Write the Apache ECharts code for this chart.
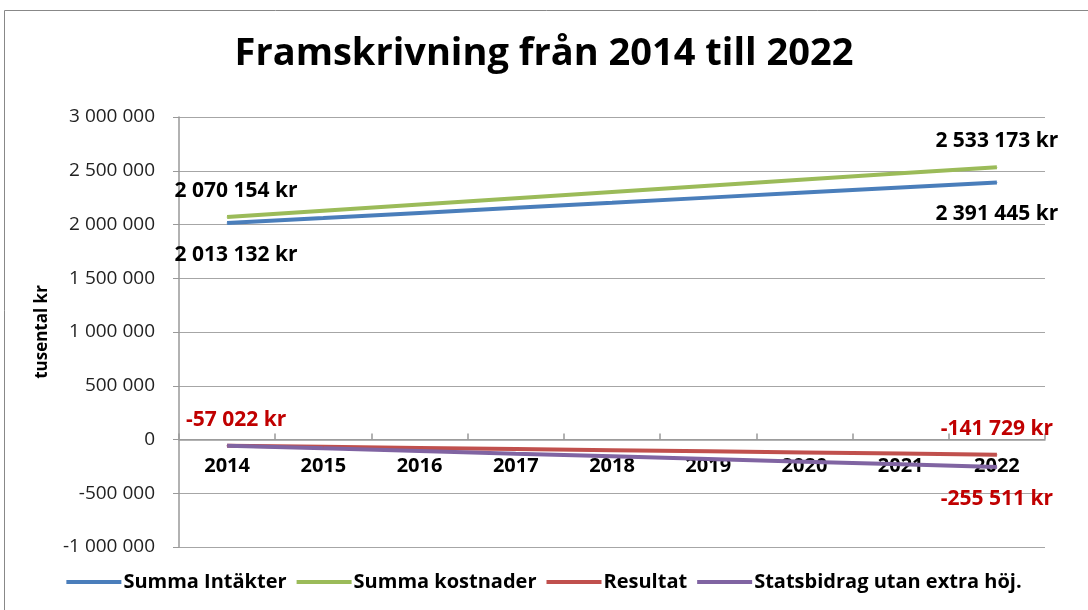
<!DOCTYPE html>
<html>
<head>
<meta charset="utf-8">
<script src="https://cdn.jsdelivr.net/npm/echarts@6/dist/echarts.min.js"></script>
<style>
html, body { margin: 0; padding: 0; background: #fff; }
#main { width: 1088px; height: 610px; }
</style>
</head>
<body>
<div id="main"></div>
<script>
var years = ['2014', '2015', '2016', '2017', '2018', '2019', '2020', '2021', '2022'];
var intakter = [2013132, 2060000, 2108000, 2155000, 2202000, 2250000, 2297000, 2344000, 2391445];
var kostnader = [2070154, 2128000, 2186000, 2244000, 2302000, 2360000, 2418000, 2476000, 2533173];
var resultat = [-57022, -67600, -78200, -88800, -99400, -110000, -120600, -131100, -141729];
var statsbidrag = [-57022, -82000, -107000, -132000, -156000, -181000, -206000, -231000, -255511];

var font = "'Liberation Sans Narrow', 'Open Sans', sans-serif";

function fmt(v) {
    return String(v).replace(/\B(?=(\d{3})+(?!\d))/g, ' ');
}

// labels only on first and last point
function ends(arr, posFirst, posLast, showFirst) {
    return arr.map(function (v, i) {
        var item = { value: v, label: { show: false } };
        if (i === 0 && showFirst) {
            item.label = { show: true, position: posFirst, offset: [9, 0],
                distance: posFirst === 'bottom' ? 21 : 15 };
        } else if (i === arr.length - 1) {
            item.label = { show: true, position: posLast,
                distance: posLast === 'bottom' ? 21 : 15 };
        }
        return item;
    });
}

function makeSeries(name, arr, color, labelColor, posFirst, posLast, showFirst) {
    return {
        name: name,
        type: 'line',
        data: ends(arr, posFirst, posLast, showFirst),
        symbol: 'circle',
        symbolSize: 1,
        showSymbol: true,
        lineStyle: { color: color, width: 4 },
        itemStyle: { color: color },
        label: {
            show: true,
            formatter: function (p) { return fmt(p.value) + ' kr'; },
            color: labelColor,
            fontFamily: font,
            fontWeight: 'bold',
            fontSize: 21
        }
    };
}

var charts = echarts.init(document.getElementById('main'));
var option = {
    animation: false,
    title: {
        text: 'Framskrivning från 2014 till 2022',
        left: 'center',
        top: 30,
        textStyle: { fontFamily: font, fontWeight: 'bold', fontSize: 38, color: '#000' }
    },
    graphic: [{
        type: 'rect',
        shape: { x: 4.5, y: 10.5, width: 1200, height: 800 },
        style: { fill: 'none', stroke: '#888', lineWidth: 1 },
        silent: true
    }],
    legend: {
        bottom: 13,
        left: 'center',
        itemWidth: 55,
        itemHeight: 4,
        itemGap: 10,
        icon: 'rect',
        textStyle: { fontFamily: font, fontWeight: 'bold', fontSize: 20, color: '#000', padding: [0, 0, 0, -3] },
        data: ['Summa Intäkter', 'Summa kostnader', 'Resultat', 'Statsbidrag utan extra höj.']
    },
    grid: { left: 179, right: 43, top: 117, bottom: 63 },
    xAxis: {
        type: 'category',
        data: years,
        boundaryGap: true,
        offset: -107.5,
        axisLine: { onZero: false, lineStyle: { color: '#999', width: 1.5 } },
        axisTick: { show: true, inside: true, length: 6, lineStyle: { color: '#999', width: 1.5 } },
        axisLabel: { fontFamily: font, fontWeight: 'bold', fontSize: 20, color: '#000', margin: 17 }
    },
    yAxis: {
        type: 'value',
        min: -1000000,
        max: 3000000,
        interval: 500000,
        name: 'tusental kr',
        nameLocation: 'middle',
        nameGap: 128,
        nameRotate: 90,
        nameTextStyle: { fontFamily: font, fontWeight: 'bold', fontSize: 17, color: '#000' },
        axisLine: { show: true, lineStyle: { color: '#999', width: 1.5 } },
        axisTick: { show: true, length: 6, lineStyle: { color: '#999' } },
        splitLine: { lineStyle: { color: '#a6a6a6', width: 1 } },
        axisLabel: {
            fontFamily: font, fontSize: 19, color: '#222', margin: 24,
            formatter: function (v) { return fmt(v); }
        }
    },
    series: [
        makeSeries('Summa Intäkter', intakter, '#4a7ebb', '#000', 'bottom', 'bottom', true),
        makeSeries('Summa kostnader', kostnader, '#9bbb59', '#000', 'top', 'top', true),
        makeSeries('Resultat', resultat, '#c0504d', '#c00000', 'top', 'top', true),
        makeSeries('Statsbidrag utan extra höj.', statsbidrag, '#8064a2', '#c00000', 'bottom', 'bottom', false)
    ]
};
charts.setOption(option);
</script>
</body>
</html>
